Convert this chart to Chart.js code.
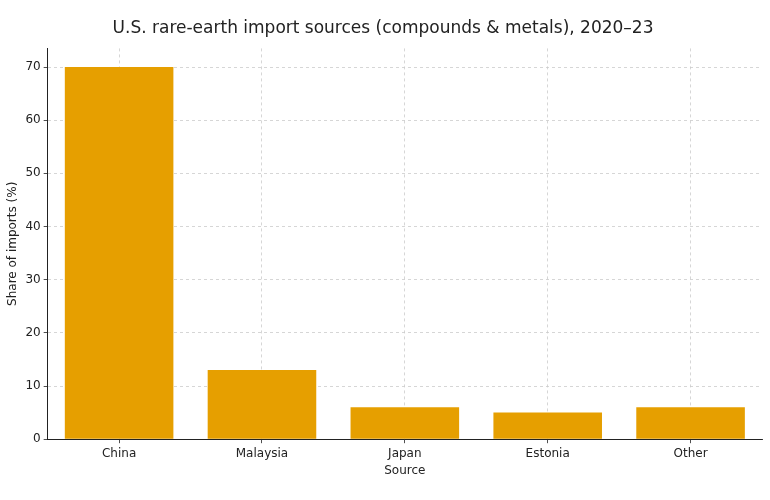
<!DOCTYPE html>
<html><head><meta charset="utf-8">
<script src="https://cdn.jsdelivr.net/npm/chart.js@4"></script>
<style>body{margin:0;background:#fff}#w{width:770px;height:500px}</style>
</head><body><div id="w"><canvas id="c"></canvas></div>
<script>
const categories = ["China", "Malaysia", "Japan", "Estonia", "Other"];
const shares = [70, 13, 6, 5, 6];
const yTicks = [0, 10, 20, 30, 40, 50, 60, 70];

const grid = {color: '#cccccc', lineWidth: 0.8, offset: false};
new Chart(document.getElementById('c'), {
  type: 'bar',
  data: {labels: categories, datasets: [{
    data: shares,
    backgroundColor: '#E69F00', borderColor: '#E69F00',
    barPercentage: 0.76, categoryPercentage: 1
  }]},
  options: {
    responsive: true, maintainAspectRatio: false, animation: false,
    layout: {padding: {left: 4, right: 8, top: 8, bottom: 22}},
    plugins: {
      legend: {display: false}, tooltip: {enabled: false},
      title: {display: true, text: 'U.S. rare-earth import sources (compounds & metals), 2020–23',
        color: '#222', font: {family: 'DejaVu Sans', size: 17, weight: 'normal'}, padding: {top: 10, bottom: 10}}
    },
    scales: {
      x: {offset: true,
        ticks: {color: '#222', font: {family: 'DejaVu Sans', size: 12}, maxRotation: 0},
        grid: {...grid, tickColor: '#222', tickLength: 4},
        border: {display: true, color: '#222', width: 1, dash: [3, 3]},
        title: {display: true, text: 'Source', color: '#222', font: {family: 'DejaVu Sans', size: 12}, padding: 0}
      },
      y: {min: 0, max: 73.5,
        afterBuildTicks: s => { s.ticks = yTicks.map(v => ({value: v})); },
        ticks: {color: '#222', font: {family: 'DejaVu Sans', size: 12}},
        grid: {...grid, tickColor: '#222', tickLength: 4},
        border: {display: true, color: '#222', width: 1, dash: [3, 3]},
        title: {display: true, text: 'Share of imports (%)', color: '#222', font: {family: 'DejaVu Sans', size: 12}, padding: 2}
      }
    }
  }
});
</script></body></html>
